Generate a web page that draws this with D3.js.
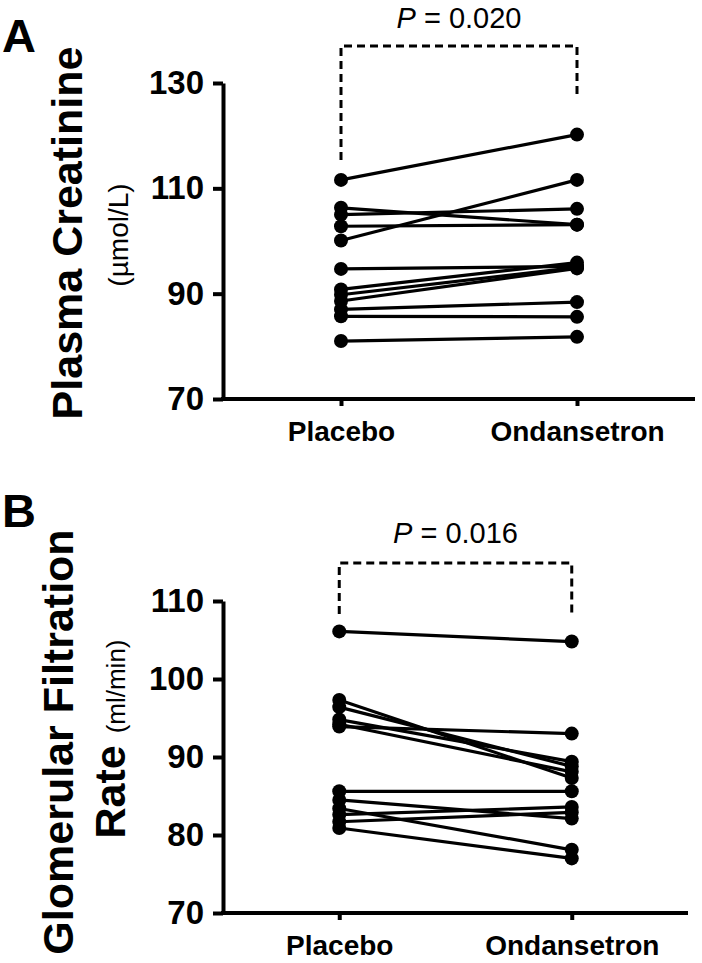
<!DOCTYPE html>
<html>
<head>
<meta charset="utf-8">
<script src="https://cdn.jsdelivr.net/npm/d3@7"></script>
<style>
  body { margin: 0; background: #fff; }
  svg { display: block; font-family: "Liberation Sans", Arial, Helvetica, sans-serif; }
  .axis path, .axis line { stroke: #000; stroke-width: 4; }
  .axis text { fill: #000; font-weight: bold; }
</style>
</head>
<body>
<svg id="chart" width="702" height="963"></svg>
<script>
// groups on the x axis
var groups = ["Placebo", "Ondansetron"];

// panel A: plasma creatinine (umol/L), one pair per subject
var creatPlacebo     = [111.6, 106.3, 105.0, 102.8, 100.1, 94.7, 90.8, 89.8, 88.6, 87.0, 85.7, 81.0];
var creatOndansetron = [120.2, 103.1, 106.1, 103.1, 111.6, 95.2, 95.9, 95.0, 94.8, 88.4, 85.6, 81.8];
var creatTicks = [70, 90, 110, 130];

// panel B: glomerular filtration rate (ml/min)
var gfrPlacebo     = [106.1, 97.3, 96.4, 94.8, 94.2, 93.9, 85.6, 84.5, 83.4, 82.6, 81.7, 80.9];
var gfrOndansetron = [104.8, 87.3, 88.8, 89.4, 88.1, 93.0, 85.6, 82.1, 78.1, 83.6, 82.9, 77.0];
var gfrTicks = [70, 80, 90, 100, 110];

var pValues = ["0.020", "0.016"];

var svg = d3.select("#chart");

function drawPanel(opt) {
    var x = d3.scalePoint().domain(groups).range([opt.x0, opt.x1]).padding(0.5);
    var y = d3.scaleLinear().domain(opt.domain).range([opt.yBottom, opt.yTop]);

    var g = svg.append("g");

    // paired lines
    var pairs = opt.before.map(function(v, i) { return [v, opt.after[i]]; });
    g.selectAll("line.pair").data(pairs).enter().append("line")
        .attr("class", "pair")
        .attr("x1", x(groups[0])).attr("x2", x(groups[1]))
        .attr("y1", function(d) { return y(d[0]); })
        .attr("y2", function(d) { return y(d[1]); })
        .attr("stroke", "#000").attr("stroke-width", 3.2);

    g.selectAll("circle.pre").data(opt.before).enter().append("circle")
        .attr("cx", x(groups[0])).attr("cy", function(d) { return y(d); })
        .attr("r", 7).attr("fill", "#000");
    g.selectAll("circle.post").data(opt.after).enter().append("circle")
        .attr("cx", x(groups[1])).attr("cy", function(d) { return y(d); })
        .attr("r", 7).attr("fill", "#000");

    // axes
    var ya = g.append("g").attr("class", "axis")
        .attr("transform", "translate(" + opt.x0 + ",0)")
        .call(d3.axisLeft(y).tickValues(opt.ticks).tickSize(10).tickSizeOuter(0).tickPadding(9));
    ya.selectAll("text").style("font-size", "33px");

    var xa = g.append("g").attr("class", "axis")
        .attr("transform", "translate(0," + opt.yBottom + ")")
        .call(d3.axisBottom(x).tickSize(7).tickSizeOuter(0).tickPadding(15));
    xa.selectAll("text").style("font-size", "28px");
    xa.select(".domain").attr("d", "M" + (opt.x0 - 2) + ",0H" + opt.x1);

    // dashed significance bracket
    var xl = x(groups[0]), xr = x(groups[1]);
    g.append("path")
        .attr("d", "M" + xl + "," + opt.brLeft + "V" + opt.brTop + "H" + xr + "V" + opt.brRight)
        .attr("fill", "none").attr("stroke", "#000").attr("stroke-width", 3)
        .attr("stroke-dasharray", "8,5");

    var pt = g.append("text")
        .attr("x", (xl + xr) / 2).attr("y", opt.pY)
        .attr("text-anchor", "middle").style("font-size", "29px");
    pt.append("tspan").style("font-style", "italic").text("P");
    pt.append("tspan").text(" = " + opt.p);

    // panel letter
    svg.append("text").attr("x", 2).attr("y", opt.letterY)
        .style("font-size", "47px").style("font-weight", "bold").text(opt.letter);
}

drawPanel({
    before: creatPlacebo, after: creatOndansetron, ticks: creatTicks,
    domain: [70, 130], yBottom: 399, yTop: 83, x0: 223, x1: 695,
    brTop: 46, brLeft: 160, brRight: 99, pY: 28, p: pValues[0],
    letter: "A", letterY: 52
});

drawPanel({
    before: gfrPlacebo, after: gfrOndansetron, ticks: gfrTicks,
    domain: [70, 110], yBottom: 913, yTop: 601, x0: 223, x1: 688,
    brTop: 563, brLeft: 614, brRight: 615, pY: 543, p: pValues[1],
    letter: "B", letterY: 527
});

// y titles, rotated
function vtext(xp, yp, size, weight, str) {
    return svg.append("text")
        .attr("transform", "translate(" + xp + "," + yp + ") rotate(-90)")
        .attr("text-anchor", "middle")
        .style("font-size", size + "px").style("font-weight", weight)
        .text(str);
}

vtext(82, 233, 43, "bold", "Plasma Creatinine");
vtext(128, 235, 28, "normal", "(\u00b5mol/L)");

vtext(73, 742, 43, "bold", "Glomerular Filtration");
var r = svg.append("text")
    .attr("transform", "translate(125,739) rotate(-90)")
    .attr("text-anchor", "middle");
r.append("tspan").style("font-size", "43px").style("font-weight", "bold").text("Rate ");
r.append("tspan").style("font-size", "26px").text("(ml/min)");
</script>
</body>
</html>
